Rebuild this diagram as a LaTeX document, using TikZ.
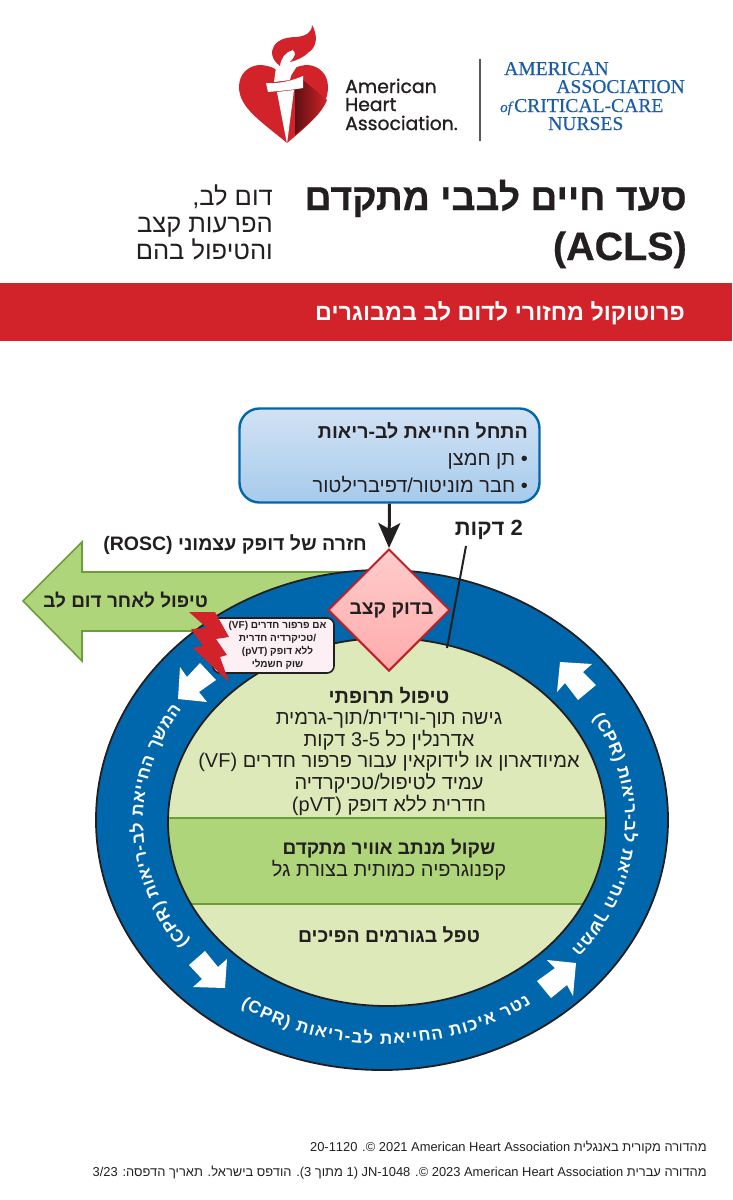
\documentclass[tikz,border=0pt]{standalone}
\usepackage{fontspec}
\usetikzlibrary{positioning, arrows.meta, shapes.geometric}
\setmainfont{Liberation Sans}
\newfontfamily\hebfont[Script=Hebrew]{Liberation Sans}
\newfontfamily\titleface[Script=Hebrew, FakeBold=0.5, BoldFont={Liberation Sans Bold}]{Liberation Sans Bold}
\newfontfamily\serifface[FakeBold=0.35]{Liberation Serif}
\newfontfamily\logoface[FakeBold=1]{Poppins}
\TeXXeTstate=1

\definecolor{ringblue}{HTML}{0067AC}
\definecolor{palegreen}{HTML}{DDE9B8}
\definecolor{midgreen}{HTML}{AFD57A}
\definecolor{edgegreen}{HTML}{6C9E38}
\definecolor{barred}{HTML}{D2232A}
\definecolor{inkblack}{HTML}{231F20}
\definecolor{aacnblue}{HTML}{1A5CA8}
\definecolor{pinkbox}{HTML}{FDF0F5}
\definecolor{boxtop}{HTML}{D2E2F4}
\definecolor{boxbottom}{HTML}{A6CBEC}

\newcommand{\heb}[1]{{\hebfont\beginR #1\endR}}
\newcommand{\lat}[1]{\beginL #1\endL{}}
\newcommand{\sized}[1]{\fontsize{#1}{#1}\selectfont}
\newcommand{\gap}{\hspace{4.6pt}}

\tikzset{
	hebtext/.style={inner sep=0pt, text=inkblack, anchor=base},
	whitearrow/.style={fill=white, draw=none},
	ringletter/.style={inner sep=0pt, text=white, anchor=base},
	logotext/.style={inner sep=0pt, anchor=base west, text=inkblack, font=\logoface\sized{18.8}},
	aacntext/.style={inner sep=0pt, anchor=base west, text=aacnblue, font=\serifface\sized{19.6}},
}

% letters one by one along an ellipse: name, start angle, sense, radii, letters
\newdimen\letterw
\newbox\letterbox
\newcommand{\ringfont}{\hebfont\bfseries\sized{17}}
\newcommand{\ringkern}{0.35}
\newcommand{\ringtext}[6]{%
	\gdef\ringt{#2}
	\foreach \ch [count=\n] in {#6} {
		\pgfinterruptpicture\global\setbox\letterbox=\hbox{\ringfont\ch}\endpgfinterruptpicture
		\letterw=\wd\letterbox
		\pgfmathsetmacro\ringmid{\ringt+#3*(\letterw/2+\ringkern)/veclen(#4*sin(\ringt),#5*cos(\ringt))*180/pi}
		\pgfmathsetmacro\ringrot{atan2(#5*cos(\ringmid),-#4*sin(\ringmid))+90*(1+#3)}
		\node (#1\n) at ({384+#4*cos(\ringmid)},{821-#5*sin(\ringmid)}) [ringletter, rotate=\ringrot]{\ringfont\ch};
		\pgfmathsetmacro\ringnext{\ringmid+#3*(\letterw/2+\ringkern)/veclen(#4*sin(\ringmid),#5*cos(\ringmid))*180/pi}
		\global\let\ringt\ringnext
	}
}

\begin{document}
\begin{tikzpicture}[x=1pt, y=-1pt]
	
	\useasboundingbox (0,0) rectangle (732,1200);
	
	%Logo
	\fill[barred] (287,143) .. controls (262,122) and (239,108) .. (239,87)
		.. controls (239,74) and (248,66) .. (259,65) .. controls (270,65) and (279,70) .. (284,76)
		.. controls (289,70) and (298,65) .. (308,65) .. controls (319,66) and (328,74) .. (328,87)
		.. controls (328,108) and (310,124) .. (287,143) -- cycle;
	\shade[left color=barred!45!black, right color=barred] (295,90) -- (303,80) -- (327,100)
		.. controls (321,115) and (308,124) .. (295,135) -- cycle;
	\fill[white] (277,60) -- (296,48) -- (300,60) .. controls (296,70) and (290,74) .. (290,80) -- (274,82) -- cycle;
	\fill[barred] (280,66) .. controls (272,60) and (270,52) .. (274,46) .. controls (279,38) and (290,37) .. (297,37)
		.. controls (305,36) and (312,33) .. (312,25) .. controls (318,35) and (317,47) .. (309,52)
		.. controls (304,57) and (298,60) .. (290,62) .. controls (296,56) and (296,53) .. (293,50)
		.. controls (285,52) and (281,58) .. (280,66) -- cycle;
	\fill[white] (266,83) .. controls (278,84) and (292,81) .. (303,76) -- (303,88)
		.. controls (292,90) and (278,91) .. (268,92) -- cycle;
	\fill[white] (277,92) -- (294,90) -- (287,144) -- cycle;
	
	\node (ahaName) at (345,93) [logotext]{American};
	\node (ahaHeart) at (345,111) [logotext]{Heart};
	\node (ahaAssoc) at (345,130) [logotext]{Association.};
	\coordinate (dividerTop) at (480,59);
	\coordinate (dividerBottom) at (480,141);
	\draw[line width=1.3, color=black!65] (dividerTop) -- (dividerBottom);
	
	\node (aacnA) at (504,75) [aacntext]{AMERICAN};
	\node (aacnB) at (685,93) [aacntext, anchor=base east]{ASSOCIATION};
	\node (aacnOf) at (500,112) [aacntext, font=\serifface\itshape\sized{15}]{of};
	\node (aacnC) at (514,112) [aacntext]{CRITICAL-CARE};
	\node (aacnN) at (548,130) [aacntext]{NURSES};
	
	%Title
	\node (title) at (687,210) [hebtext, anchor=base east, font=\titleface\sized{37.4}]{{\titleface\beginR סעד חיים לבבי מתקדם\endR}};
	\node (titleB) at (687,260) [hebtext, anchor=base east, font=\titleface\sized{39.5}]{{\titleface\beginR\lat{(ACLS)}\endR}};
	\node (subtitle) at (273,205) [hebtext, anchor=base east, font=\sized{25.5}]{\heb{דום לב,}};
	\node (subtitleB) at (273,232) [hebtext, anchor=base east, font=\sized{25.5}]{\heb{הפרעות קצב}};
	\node (subtitleC) at (273,259) [hebtext, anchor=base east, font=\sized{25.5}]{\heb{והטיפול בהם}};
	\fill[barred] (0,283) rectangle (732,341);
	\node (barText) at (685,320) [inner sep=0pt, anchor=base east, text=white, font=\bfseries\sized{23.3}]{\heb{פרוטוקול מחזורי לדום לב במבוגרים}};
	
	%Post arrest arrow
	\draw[fill=midgreen, draw=edgegreen, line width=1.6] (23,601) -- (82,542) -- (82,572) -- (375,572)
		-- (375,631) -- (82,631) -- (82,661) -- cycle;
	\node (postCare) at (208,607) [hebtext, anchor=base east, font=\bfseries\sized{19}]{\heb{טיפול לאחר דום לב}};
	
	%Ring
	\draw[fill=ringblue, draw=inkblack, line width=1.8] (382,820) ellipse [x radius=286, y radius=250];
	\begin{scope}
		\clip (387,822) ellipse [x radius=219, y radius=184];
		\fill[palegreen] (160,630) rectangle (610,1010);
		\fill[midgreen] (160,818) rectangle (610,904);
		\draw[edgegreen, line width=1.5] (160,818) -- (610,818);
		\draw[edgegreen, line width=1.5] (160,904) -- (610,904);
	\end{scope}
	\draw[draw=inkblack, line width=1.8] (387,822) ellipse [x radius=219, y radius=184];
	
	%Ring arrows
	\fill[whitearrow] (178,699) -- (180,667) -- (187,677) -- (200,663) -- (216,680) -- (199,692) -- (207,702) -- cycle;
	\fill[whitearrow] (225,988) -- (227,959) -- (218,967) -- (205,951) -- (189,965) -- (202,979) -- (193,987) -- cycle;
	\fill[whitearrow] (576,963) -- (547,960) -- (555,968) -- (537,981) -- (551,998) -- (567,985) -- (573,996) -- cycle;
	\fill[whitearrow] (560,662) -- (592,664) -- (583,672) -- (596,685) -- (578,700) -- (565,683) -- (557,692) -- cycle;
	
	%Ring text
	\ringtext{ringL}{147}{1}{241}{206}{ה,מ,ש,ך,\gap,ה,ח,י,י,א,ת,\gap,ל,ב,-,ר,י,א,ו,ת,\gap,{(},R,P,C,)}
	\ringtext{ringR}{-39}{1}{241}{206}{ה,מ,ש,ך,\gap,ה,ח,י,י,א,ת,\gap,ל,ב,-,ר,י,א,ו,ת,\gap,{(},R,P,C,)}
	\renewcommand{\ringkern}{0.65}
	\ringtext{ringB}{305}{-1}{258}{223}{נ,ט,ר,\gap,א,י,כ,ו,ת,\gap,ה,ח,י,י,א,ת,\gap,ל,ב,-,ר,י,א,ו,ת,\gap,{(},R,P,C,)}
	
	%Inner texts
	\node (drugs) at (389,751) [hebtext, anchor=center, align=center, font=\fontsize{20}{21.6}\selectfont]{
		{\bfseries\heb{טיפול תרופתי}} \\
		\heb{גישה תוך-ורידית/תוך-גרמית} \\
		\heb{אדרנלין כל \lat{3-5} דקות} \\
		\heb{אמיודארון או לידוקאין עבור פרפור חדרים \lat{(VF)}} \\
		\heb{עמיד לטיפול/טכיקרדיה} \\
		\heb{חדרית ללא דופק \lat{(pVT)}}};
	\node (airway) at (389,860) [hebtext, anchor=center, align=center, font=\fontsize{20}{22}\selectfont]{
		{\bfseries\fontsize{19}{22}\selectfont\heb{שקול מנתב אוויר מתקדם}} \\
		\heb{קפנוגרפיה כמותית בצורת גל}};
	\node (causes) at (389,942) [hebtext, font=\bfseries\sized{19.5}]{\heb{טפל בגורמים הפיכים}};
	
	%Shock callout
	\node (shockBox) at (273.5,645.5) [rectangle, draw=inkblack, fill=pinkbox, line width=1.6, rounded corners=7,
		minimum width=121, minimum height=55, inner sep=0pt, align=center,
		font=\bfseries\fontsize{10}{12.8}\selectfont, text=inkblack]{
		\hspace*{8pt}\heb{אם פרפור חדרים \lat{(VF)}} \\
		\hspace*{8pt}\heb{/טכיקרדיה חדרית} \\
		\hspace*{8pt}\heb{ללא דופק \lat{(pVT)}} \\
		\hspace*{8pt}\heb{שוק חשמלי}};
	\fill[barred] (189,612) -- (215,612) -- (229,637) -- (216,639) -- (227,655) -- (220,657) -- (229,682)
		-- (193,648) -- (203,646) -- (191,629) -- (207,628) -- cycle;
	
	%Start box and diamond
	\node (startCPR) at (389.5,455.5) [rectangle, draw=ringblue, line width=2.4, rounded corners=20,
		minimum width=300, minimum height=94, inner sep=0pt, top color=boxtop, bottom color=boxbottom]{};
	\node (startText) at (528,492) [hebtext, anchor=base east, align=right, font=\fontsize{20}{27}\selectfont]{
		{\bfseries\fontsize{19.6}{27}\selectfont\heb{התחל החייאת לב-ריאות}} \\
		\heb{• תן חמצן} \\
		\heb{• חבר מוניטור/דפיברילטור}};
	\node (rosc) at (367,550) [hebtext, anchor=base east, font=\bfseries\sized{19.5}]{\heb{חזרה של דופק עצמוני \lat{(ROSC)}}};
	\node (twoMin) at (523,535) [hebtext, anchor=base east, font=\bfseries\sized{22}]{\heb{2 דקות}};
	\node (checkRhythm) at (389,610) [diamond, draw=barred!90!black, line width=2, aspect=1, minimum width=122, minimum height=122,
		inner sep=0pt, top color=red!20!white, bottom color=red!33!white, font=\bfseries\sized{19.2}, text=inkblack]{\hspace*{5pt}\raisebox{-2pt}{\heb{בדוק קצב}}};
	
	%Links
	\coordinate (twoMinTop) at (466,546);
	\coordinate (twoMinBottom) at (447,648);
	\draw[color=inkblack, line width=2] (twoMinTop) -- (twoMinBottom);
	\draw[-{Stealth[length=25, width=22, inset=6]}, color=inkblack, line width=3] (startCPR.south) -- (checkRhythm.north);
	
	%Footer
	\node (footA) at (707,1151) [hebtext, anchor=base east, font=\sized{12.9}]{\heb{מהדורה מקורית באנגלית \lat{American Heart Association} \lat{2021} ©. \lat{20-1120}}};
	\node (footB) at (707,1176) [hebtext, anchor=base east, font=\sized{12.9}]{\heb{מהדורה עברית \lat{American Heart Association} \lat{2023} ©. \lat{JN-1048} (\lat{1} מתוך \lat{3}). הודפס בישראל. תאריך הדפסה: \lat{3/23}}};
	
\end{tikzpicture}
\end{document}
